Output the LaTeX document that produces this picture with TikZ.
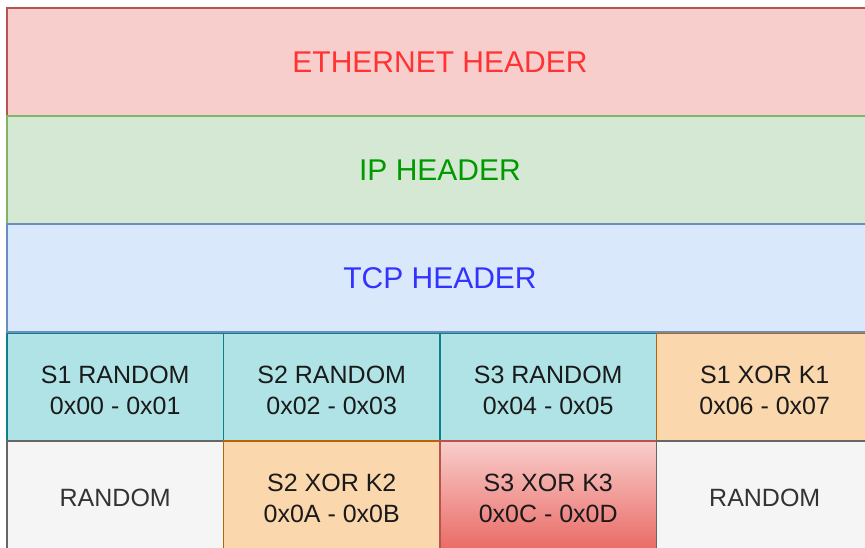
\documentclass[tikz,border=0pt]{standalone}
\usepackage{fontspec}
\setmainfont{Liberation Sans}
\definecolor{redF}{HTML}{F8CECC}\definecolor{redS}{HTML}{B85450}
\definecolor{grnF}{HTML}{D5E8D4}\definecolor{grnS}{HTML}{82B366}
\definecolor{bluF}{HTML}{DAE8FC}\definecolor{bluS}{HTML}{6C8EBF}
\definecolor{cyaF}{HTML}{B0E3E6}\definecolor{cyaS}{HTML}{0E8088}
\definecolor{oraF}{HTML}{FAD7AC}\definecolor{oraS}{HTML}{B46504}
\definecolor{gryF}{HTML}{F5F5F5}\definecolor{gryS}{HTML}{666666}
\definecolor{redG}{HTML}{EA6B66}
\definecolor{txtR}{HTML}{FF3333}\definecolor{txtG}{HTML}{009900}\definecolor{txtB}{HTML}{3333FF}
\definecolor{txtD}{HTML}{1A1A1A}\definecolor{txtGr}{HTML}{333333}
\begin{document}
\begin{tikzpicture}[x=1pt,y=-1pt,
  hdr/.style={draw, line width=1.7pt, anchor=north west, inner sep=0pt, outer sep=0pt,
    minimum width=866pt, minimum height=108pt, font=\fontsize{30}{36}\selectfont},
  cell/.style={draw, line width=1.7pt, anchor=north west, inner sep=0pt, outer sep=0pt,
    minimum width=216.5pt, minimum height=108pt},
  ct/.style={align=center, yshift=-3pt, text=txtD, inner sep=0pt,
    font=\fontsize{25}{31}\selectfont},
  ctg/.style={ct, text=txtGr},
  cyan/.style={cell, fill=cyaF, draw=cyaS},
  orng/.style={cell, fill=oraF, draw=oraS},
  grey/.style={cell, fill=gryF, draw=gryS},
  redgrad/.style={cell, top color=redF, bottom color=redG, draw=redS}]
\useasboundingbox (0,0) rectangle (865,547);
\clip (0,0) rectangle (865,547);
% row 1
\node[cyan, label={[ct]center:{S1 RANDOM\\0x00 - 0x01}}] (s1r) at (7,333) {};
\node[cyan, label={[ct]center:{S2 RANDOM\\0x02 - 0x03}}] (s2r) at (223.5,333) {};
\node[cyan, label={[ct]center:{S3 RANDOM\\0x04 - 0x05}}] (s3r) at (440,333) {};
\node[orng, label={[ct]center:{S1 XOR K1\\0x06 - 0x07}}] (s1x) at (656.5,333) {};
% row 2
\node[grey, label={[ctg]center:{RANDOM}}] (r1) at (7,441) {};
\node[orng, label={[ct]center:{S2 XOR K2\\0x0A - 0x0B}}] (s2x) at (223.5,441) {};
\node[redgrad, label={[ct]center:{S3 XOR K3\\0x0C - 0x0D}}] (s3x) at (440,441) {};
\node[grey, label={[ctg]center:{RANDOM}}] (r2) at (656.5,441) {};
% headers
\node[hdr, fill=redF, draw=redS, text=txtR] (eth) at (7,8) {ETHERNET HEADER};
\node[hdr, fill=grnF, draw=grnS, text=txtG] (ip) at (7,116) {IP HEADER};
\node[hdr, fill=bluF, draw=bluS, text=txtB] (tcp) at (7,224) {TCP HEADER};
\end{tikzpicture}
\end{document}
